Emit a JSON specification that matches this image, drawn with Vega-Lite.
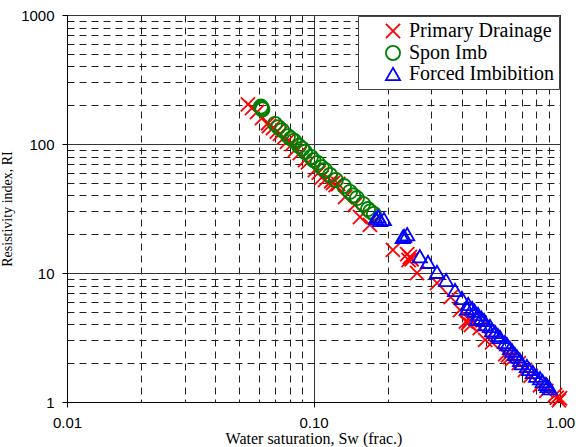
{
  "$schema": "https://vega.github.io/schema/vega-lite/v6.json",
  "width": 493,
  "height": 387,
  "autosize": {"type": "none"},
  "padding": {"left": 67, "top": 15, "right": 21, "bottom": 45},
  "background": "white",
  "config": {
    "view": {"stroke": "black", "strokeWidth": 1},
    "axis": {
      "labelFont": "Liberation Sans",
      "labelFontSize": 15,
      "labelColor": "black",
      "titleFont": "Liberation Serif",
      "titleFontWeight": "normal",
      "titleColor": "black",
      "domainColor": "black",
      "tickColor": "black",
      "gridColor": "black",
      "gridOpacity": 1,
      "gridWidth": 1
    }
  },
  "data": {
    "values": [
      {"Series": "Primary Drainage", "Sw": 0.0542, "RI": 203},
      {"Series": "Primary Drainage", "Sw": 0.0563, "RI": 190},
      {"Series": "Primary Drainage", "Sw": 0.059, "RI": 177},
      {"Series": "Primary Drainage", "Sw": 0.0618, "RI": 159},
      {"Series": "Primary Drainage", "Sw": 0.0654, "RI": 145},
      {"Series": "Primary Drainage", "Sw": 0.066, "RI": 138},
      {"Series": "Primary Drainage", "Sw": 0.0685, "RI": 133},
      {"Series": "Primary Drainage", "Sw": 0.071, "RI": 125},
      {"Series": "Primary Drainage", "Sw": 0.0731, "RI": 120},
      {"Series": "Primary Drainage", "Sw": 0.076, "RI": 112},
      {"Series": "Primary Drainage", "Sw": 0.078, "RI": 104},
      {"Series": "Primary Drainage", "Sw": 0.082, "RI": 100},
      {"Series": "Primary Drainage", "Sw": 0.0841, "RI": 89.8},
      {"Series": "Primary Drainage", "Sw": 0.088, "RI": 85},
      {"Series": "Primary Drainage", "Sw": 0.0924, "RI": 75.2},
      {"Series": "Primary Drainage", "Sw": 0.095, "RI": 72},
      {"Series": "Primary Drainage", "Sw": 0.1014, "RI": 62.9},
      {"Series": "Primary Drainage", "Sw": 0.105, "RI": 60},
      {"Series": "Primary Drainage", "Sw": 0.108, "RI": 55},
      {"Series": "Primary Drainage", "Sw": 0.1114, "RI": 52.6},
      {"Series": "Primary Drainage", "Sw": 0.118, "RI": 51.5},
      {"Series": "Primary Drainage", "Sw": 0.12, "RI": 49.9},
      {"Series": "Primary Drainage", "Sw": 0.123, "RI": 48},
      {"Series": "Primary Drainage", "Sw": 0.126, "RI": 49},
      {"Series": "Primary Drainage", "Sw": 0.1343, "RI": 38.8},
      {"Series": "Primary Drainage", "Sw": 0.147, "RI": 33.7},
      {"Series": "Primary Drainage", "Sw": 0.1544, "RI": 27.2},
      {"Series": "Primary Drainage", "Sw": 0.1694, "RI": 23.6},
      {"Series": "Primary Drainage", "Sw": 0.21, "RI": 15.1},
      {"Series": "Primary Drainage", "Sw": 0.24, "RI": 14},
      {"Series": "Primary Drainage", "Sw": 0.246, "RI": 13.3},
      {"Series": "Primary Drainage", "Sw": 0.25, "RI": 12.8},
      {"Series": "Primary Drainage", "Sw": 0.243, "RI": 12.6},
      {"Series": "Primary Drainage", "Sw": 0.263, "RI": 10.0},
      {"Series": "Primary Drainage", "Sw": 0.317, "RI": 8.37},
      {"Series": "Primary Drainage", "Sw": 0.36, "RI": 6.5},
      {"Series": "Primary Drainage", "Sw": 0.393, "RI": 5.17},
      {"Series": "Primary Drainage", "Sw": 0.415, "RI": 4.2},
      {"Series": "Primary Drainage", "Sw": 0.424, "RI": 4.1},
      {"Series": "Primary Drainage", "Sw": 0.435, "RI": 3.95},
      {"Series": "Primary Drainage", "Sw": 0.43, "RI": 4.3},
      {"Series": "Primary Drainage", "Sw": 0.473, "RI": 3.75},
      {"Series": "Primary Drainage", "Sw": 0.497, "RI": 3.03},
      {"Series": "Primary Drainage", "Sw": 0.53, "RI": 2.9},
      {"Series": "Primary Drainage", "Sw": 0.6, "RI": 2.35},
      {"Series": "Primary Drainage", "Sw": 0.615, "RI": 2.3},
      {"Series": "Primary Drainage", "Sw": 0.627, "RI": 2.23},
      {"Series": "Primary Drainage", "Sw": 0.64, "RI": 2.15},
      {"Series": "Primary Drainage", "Sw": 0.68, "RI": 2.0},
      {"Series": "Primary Drainage", "Sw": 0.721, "RI": 1.77},
      {"Series": "Primary Drainage", "Sw": 0.76, "RI": 1.6},
      {"Series": "Primary Drainage", "Sw": 0.83, "RI": 1.35},
      {"Series": "Primary Drainage", "Sw": 0.88, "RI": 1.22},
      {"Series": "Primary Drainage", "Sw": 0.955, "RI": 1.13},
      {"Series": "Primary Drainage", "Sw": 0.97, "RI": 1.08},
      {"Series": "Primary Drainage", "Sw": 1.0, "RI": 1.07},
      {"Series": "Primary Drainage", "Sw": 0.99, "RI": 1.03},
      {"Series": "Spon Imb", "Sw": 0.0618, "RI": 190},
      {"Series": "Spon Imb", "Sw": 0.062, "RI": 185},
      {"Series": "Spon Imb", "Sw": 0.0612, "RI": 195},
      {"Series": "Spon Imb", "Sw": 0.0698, "RI": 143},
      {"Series": "Spon Imb", "Sw": 0.072, "RI": 135},
      {"Series": "Spon Imb", "Sw": 0.0745, "RI": 128},
      {"Series": "Spon Imb", "Sw": 0.0788, "RI": 115},
      {"Series": "Spon Imb", "Sw": 0.081, "RI": 110},
      {"Series": "Spon Imb", "Sw": 0.0834, "RI": 106},
      {"Series": "Spon Imb", "Sw": 0.0873, "RI": 96.5},
      {"Series": "Spon Imb", "Sw": 0.09, "RI": 92},
      {"Series": "Spon Imb", "Sw": 0.0924, "RI": 86.7},
      {"Series": "Spon Imb", "Sw": 0.0977, "RI": 79.3},
      {"Series": "Spon Imb", "Sw": 0.1, "RI": 75},
      {"Series": "Spon Imb", "Sw": 0.104, "RI": 71.3},
      {"Series": "Spon Imb", "Sw": 0.108, "RI": 66},
      {"Series": "Spon Imb", "Sw": 0.1114, "RI": 62.9},
      {"Series": "Spon Imb", "Sw": 0.1167, "RI": 57.5},
      {"Series": "Spon Imb", "Sw": 0.1233, "RI": 52.6},
      {"Series": "Spon Imb", "Sw": 0.133, "RI": 47.2},
      {"Series": "Spon Imb", "Sw": 0.1406, "RI": 42.5},
      {"Series": "Spon Imb", "Sw": 0.145, "RI": 40},
      {"Series": "Spon Imb", "Sw": 0.15, "RI": 38.1},
      {"Series": "Spon Imb", "Sw": 0.159, "RI": 34.3},
      {"Series": "Spon Imb", "Sw": 0.1664, "RI": 31.3},
      {"Series": "Spon Imb", "Sw": 0.17, "RI": 30},
      {"Series": "Spon Imb", "Sw": 0.1758, "RI": 28.7},
      {"Series": "Forced Imbibition", "Sw": 0.179, "RI": 26.7},
      {"Series": "Forced Imbibition", "Sw": 0.183, "RI": 27.5},
      {"Series": "Forced Imbibition", "Sw": 0.186, "RI": 25.8},
      {"Series": "Forced Imbibition", "Sw": 0.193, "RI": 26.2},
      {"Series": "Forced Imbibition", "Sw": 0.23, "RI": 19},
      {"Series": "Forced Imbibition", "Sw": 0.233, "RI": 19.4},
      {"Series": "Forced Imbibition", "Sw": 0.24, "RI": 20},
      {"Series": "Forced Imbibition", "Sw": 0.27, "RI": 13.5},
      {"Series": "Forced Imbibition", "Sw": 0.2914, "RI": 12.2},
      {"Series": "Forced Imbibition", "Sw": 0.317, "RI": 10.2},
      {"Series": "Forced Imbibition", "Sw": 0.345, "RI": 8.83},
      {"Series": "Forced Imbibition", "Sw": 0.375, "RI": 7.38},
      {"Series": "Forced Imbibition", "Sw": 0.4, "RI": 6.4},
      {"Series": "Forced Imbibition", "Sw": 0.42, "RI": 5.3},
      {"Series": "Forced Imbibition", "Sw": 0.424, "RI": 5.75},
      {"Series": "Forced Imbibition", "Sw": 0.44, "RI": 5.35},
      {"Series": "Forced Imbibition", "Sw": 0.45, "RI": 5.1},
      {"Series": "Forced Imbibition", "Sw": 0.46, "RI": 4.4},
      {"Series": "Forced Imbibition", "Sw": 0.465, "RI": 4.81},
      {"Series": "Forced Imbibition", "Sw": 0.48, "RI": 4.5},
      {"Series": "Forced Imbibition", "Sw": 0.492, "RI": 4.32},
      {"Series": "Forced Imbibition", "Sw": 0.5, "RI": 4.0},
      {"Series": "Forced Imbibition", "Sw": 0.52, "RI": 3.88},
      {"Series": "Forced Imbibition", "Sw": 0.53, "RI": 3.6},
      {"Series": "Forced Imbibition", "Sw": 0.545, "RI": 3.49},
      {"Series": "Forced Imbibition", "Sw": 0.56, "RI": 3.3},
      {"Series": "Forced Imbibition", "Sw": 0.571, "RI": 3.19},
      {"Series": "Forced Imbibition", "Sw": 0.598, "RI": 2.92},
      {"Series": "Forced Imbibition", "Sw": 0.61, "RI": 2.8},
      {"Series": "Forced Imbibition", "Sw": 0.627, "RI": 2.62},
      {"Series": "Forced Imbibition", "Sw": 0.64, "RI": 2.5},
      {"Series": "Forced Imbibition", "Sw": 0.656, "RI": 2.36},
      {"Series": "Forced Imbibition", "Sw": 0.67, "RI": 2.25},
      {"Series": "Forced Imbibition", "Sw": 0.688, "RI": 2.12},
      {"Series": "Forced Imbibition", "Sw": 0.7, "RI": 2.0},
      {"Series": "Forced Imbibition", "Sw": 0.734, "RI": 1.9},
      {"Series": "Forced Imbibition", "Sw": 0.75, "RI": 1.8},
      {"Series": "Forced Imbibition", "Sw": 0.776, "RI": 1.71},
      {"Series": "Forced Imbibition", "Sw": 0.8, "RI": 1.6},
      {"Series": "Forced Imbibition", "Sw": 0.83, "RI": 1.53},
      {"Series": "Forced Imbibition", "Sw": 0.85, "RI": 1.45},
      {"Series": "Forced Imbibition", "Sw": 0.877, "RI": 1.38},
      {"Series": "Forced Imbibition", "Sw": 0.89, "RI": 1.33},
      {"Series": "Forced Imbibition", "Sw": 0.91, "RI": 1.28}
    ]
  },
  "mark": {"type": "point", "filled": false, "size": 200, "strokeWidth": 1.8, "opacity": 1},
  "encoding": {
    "x": {
      "field": "Sw",
      "type": "quantitative",
      "scale": {"type": "log", "domain": [0.01, 1], "nice": false},
      "axis": {
        "title": "Water saturation, Sw (frac.)",
        "titleFontSize": 16,
        "titlePadding": 0,
        "values": [0.01, 0.02, 0.03, 0.04, 0.05, 0.06, 0.07, 0.08, 0.09, 0.1, 0.2, 0.3, 0.4, 0.5, 0.6, 0.7, 0.8, 0.9, 1],
        "labelExpr": "abs(log(datum.value)/LN10 - round(log(datum.value)/LN10)) < 0.000001 ? format(datum.value, '.2f') : ''",
        "labelPadding": 8,
        "labelFlush": false,
        "labelOverlap": false,
        "tickSize": 5,
        "tickOpacity": {"condition": {"test": "abs(log(datum.value)/LN10 - round(log(datum.value)/LN10)) < 0.000001", "value": 1}, "value": 0},
        "grid": true,
        "gridDash": {"condition": {"test": "abs(log(datum.value)/LN10 - round(log(datum.value)/LN10)) < 0.000001", "value": []}, "value": [7, 5]},
        "gridColor": {"condition": {"test": "abs(log(datum.value)/LN10 - round(log(datum.value)/LN10)) < 0.000001", "value": "#333333"}, "value": "#222222"}
      }
    },
    "y": {
      "field": "RI",
      "type": "quantitative",
      "scale": {"type": "log", "domain": [1, 1000], "nice": false},
      "axis": {
        "title": "Resistivity index, RI",
        "titleFontSize": 14,
        "titlePadding": 6,
        "values": [1, 2, 3, 4, 5, 6, 7, 8, 9, 10, 20, 30, 40, 50, 60, 70, 80, 90, 100, 200, 300, 400, 500, 600, 700, 800, 900, 1000],
        "labelExpr": "abs(log(datum.value)/LN10 - round(log(datum.value)/LN10)) < 0.000001 ? format(datum.value, 'd') : ''",
        "labelPadding": 8,
        "labelFlush": false,
        "labelOverlap": false,
        "tickSize": 5,
        "tickOpacity": {"condition": {"test": "abs(log(datum.value)/LN10 - round(log(datum.value)/LN10)) < 0.000001", "value": 1}, "value": 0},
        "grid": true,
        "gridDash": {"condition": {"test": "abs(log(datum.value)/LN10 - round(log(datum.value)/LN10)) < 0.000001", "value": []}, "value": [7, 5]},
        "gridColor": {"condition": {"test": "abs(log(datum.value)/LN10 - round(log(datum.value)/LN10)) < 0.000001", "value": "#333333"}, "value": "#222222"}
      }
    },
    "color": {
      "field": "Series",
      "type": "nominal",
      "scale": {"domain": ["Primary Drainage", "Spon Imb", "Forced Imbibition"], "range": ["#ff0000", "#008000", "#0000ff"]},
      "legend": {
        "title": null,
        "orient": "top-right",
        "offset": 1,
        "fillColor": "white",
        "strokeColor": "#444444",
        "padding": 5,
        "labelFont": "Liberation Serif",
        "labelFontSize": 20,
        "labelColor": "black",
        "labelLimit": 300,
        "rowPadding": 0,
        "symbolSize": 200,
        "symbolStrokeWidth": 1.8,
        "symbolOffset": 20,
        "labelOffset": 6
      }
    },
    "shape": {
      "field": "Series",
      "type": "nominal",
      "scale": {"domain": ["Primary Drainage", "Spon Imb", "Forced Imbibition"], "range": ["M-1,-1L1,1M-1,1L1,-1", "circle", "triangle-up"]},
      "legend": null
    },
    "order": {"value": 0}
  }
}
